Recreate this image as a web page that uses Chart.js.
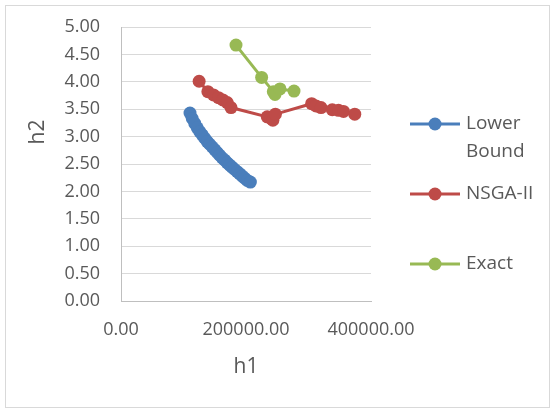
<!DOCTYPE html>
<html>
<head>
<meta charset="utf-8">
<script src="https://cdn.jsdelivr.net/npm/chart.js@4"></script>
<style>
  body { margin: 0; background: #fff; }
</style>
</head>
<body>
<canvas id="paretoChart" width="555" height="410"></canvas>
<script>
// --- Data ---
const lowerX = [110400, 114000, 118000, 122000, 126000, 130000, 134000, 138000, 142000, 146000, 150000, 154000, 158000, 162000, 166000, 170000, 174000, 178000, 182000, 186000, 190000, 194000, 198000, 202000, 207000];
const lowerY = [3.43, 3.33, 3.24, 3.16, 3.09, 3.03, 2.97, 2.91, 2.86, 2.81, 2.76, 2.71, 2.66, 2.61, 2.57, 2.52, 2.48, 2.44, 2.40, 2.36, 2.32, 2.28, 2.24, 2.20, 2.17];

const nsgaX = [125000, 139000, 148000, 156000, 163000, 170000, 176000, 234000, 240000, 243000, 247000, 305000, 312000, 320000, 338000, 348000, 356000, 374000];
const nsgaY = [4.01, 3.82, 3.76, 3.71, 3.67, 3.62, 3.53, 3.36, 3.33, 3.30, 3.41, 3.60, 3.56, 3.53, 3.49, 3.48, 3.46, 3.41];

const exactX = [184000, 225000, 243700, 246400, 254400, 276800];
const exactY = [4.67, 4.08, 3.82, 3.77, 3.87, 3.83];

const seriesNames = ['Lower Bound', 'NSGA-II', 'Exact'];
const seriesColors = ['#4a7ebb', '#be4b48', '#98b954'];

const xTicks = [0, 200000, 400000];
const yTicks = [0, 0.5, 1, 1.5, 2, 2.5, 3, 3.5, 4, 4.5, 5];

const textColor = '#595959';
const fontFamily = '"Open Sans", "DejaVu Sans", sans-serif';

function toPoints(xs, ys) {
    return xs.map((x, i) => ({ x: x, y: ys[i] }));
}

// --- Titles, legend and frame drawn by hand (Excel-like layout) ---
const decorPlugin = {
    id: 'decor',
    beforeDraw(chart) {
        const ctx = chart.ctx;
        ctx.save();
        ctx.fillStyle = '#ffffff';
        ctx.fillRect(0, 0, chart.width, chart.height);
        ctx.strokeStyle = '#d9d9d9';
        ctx.lineWidth = 1;
        ctx.strokeRect(5.5, 5.5, 544, 402);
        ctx.restore();
    },
    afterDraw(chart) {
        const ctx = chart.ctx;
        ctx.save();
        ctx.fillStyle = textColor;
        ctx.font = '21px ' + fontFamily;
        ctx.textAlign = 'center';
        ctx.textBaseline = 'middle';
        ctx.fillText('h1', 246, 367);

        ctx.translate(38, 132);
        ctx.rotate(-Math.PI / 2);
        ctx.fillText('h2', 0, 0);
        ctx.setTransform(1, 0, 0, 1, 0, 0);

        // legend
        const rowY = [124, 194, 264];
        ctx.font = '19px ' + fontFamily;
        ctx.textAlign = 'left';
        chart.data.datasets.forEach((ds, i) => {
            const y = rowY[i];
            ctx.strokeStyle = ds.borderColor;
            ctx.lineWidth = 3;
            ctx.beginPath();
            ctx.moveTo(410, y);
            ctx.lineTo(460, y);
            ctx.stroke();
            ctx.fillStyle = ds.backgroundColor;
            ctx.beginPath();
            ctx.arc(435, y, 6.5, 0, Math.PI * 2);
            ctx.fill();

            ctx.fillStyle = textColor;
            let lines = [ds.label];
            if (ctx.measureText(ds.label).width > 80) lines = ds.label.split(' ');
            lines.forEach((line, j) => ctx.fillText(line, 466, y + j * 28));
        });
        ctx.restore();
    }
};

const ctx = document.getElementById('paretoChart').getContext('2d');

new Chart(ctx, {
    type: 'scatter',
    data: {
        datasets: [
            { data: toPoints(lowerX, lowerY) },
            { data: toPoints(nsgaX, nsgaY) },
            { data: toPoints(exactX, exactY) }
        ].map((ds, i) => Object.assign(ds, {
            label: seriesNames[i],
            borderColor: seriesColors[i],
            backgroundColor: seriesColors[i],
            showLine: true,
            borderWidth: 3,
            pointRadius: 6.5,
            pointBorderWidth: 0
        }))
    },
    options: {
        responsive: false,
        animation: false,
        layout: { padding: { top: 27, right: 184, bottom: 0, left: 0 } },
        plugins: {
            legend: { display: false },
            tooltip: { enabled: false }
        },
        scales: {
            x: {
                type: 'linear',
                min: 0,
                max: 400000,
                afterFit: scale => { scale.height = 109; },
                afterBuildTicks: scale => { scale.ticks = xTicks.map(v => ({ value: v })); },
                grid: { display: false, drawTicks: false },
                border: { display: true, color: '#bfbfbf', width: 1 },
                ticks: {
                    padding: 18,
                    color: textColor,
                    font: { family: fontFamily, size: 18 },
                    maxRotation: 0,
                    callback: v => v.toFixed(2)
                }
            },
            y: {
                min: 0,
                max: 5,
                afterFit: scale => {
                    scale.width = 121;
                    // tick padding would otherwise push the plot area down
                    scale.paddingTop = 0;
                    scale.paddingBottom = 0;
                },
                afterBuildTicks: scale => { scale.ticks = yTicks.map(v => ({ value: v })); },
                grid: { color: '#d9d9d9', lineWidth: 1, drawTicks: false },
                border: { display: true, color: '#bfbfbf', width: 1 },
                ticks: {
                    padding: 21,
                    color: textColor,
                    font: { family: fontFamily, size: 18 },
                    callback: v => v.toFixed(2)
                }
            }
        }
    },
    plugins: [decorPlugin]
});
</script>
</body>
</html>
